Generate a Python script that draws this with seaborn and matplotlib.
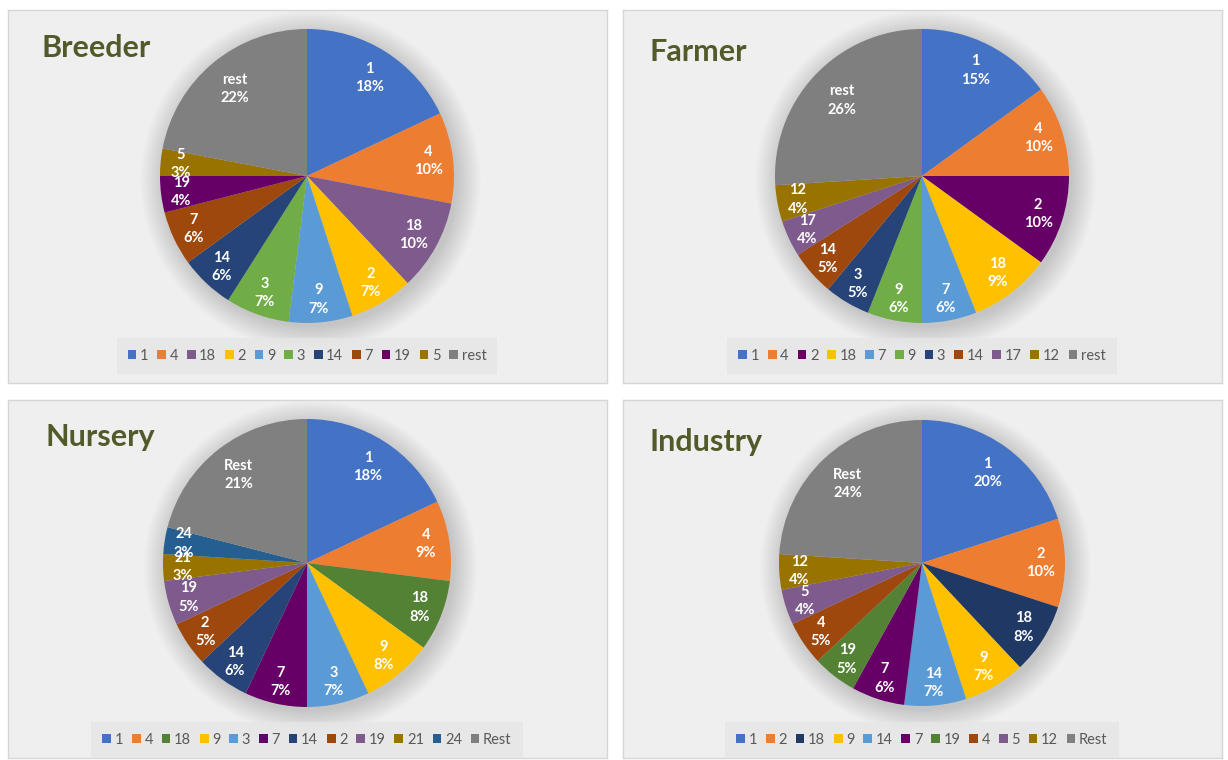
import matplotlib
matplotlib.use("Agg")
import matplotlib.pyplot as plt
from matplotlib.patches import Circle
import numpy as np
import seaborn as sns

sns.set_theme(style="white")
plt.rcParams["font.family"] = ["Lato", "DejaVu Sans"]

# ---- data -------------------------------------------------------------
breeder_labels = ["1", "4", "18", "2", "9", "3", "14", "7", "19", "5", "rest"]
breeder_values = [18, 10, 10, 7, 7, 7, 6, 6, 4, 3, 22]

farmer_labels = ["1", "4", "2", "18", "7", "9", "3", "14", "17", "12", "rest"]
farmer_values = [15, 10, 10, 9, 6, 6, 5, 5, 4, 4, 26]

nursery_labels = ["1", "4", "18", "9", "3", "7", "14", "2", "19", "21", "24", "Rest"]
nursery_values = [18, 9, 8, 8, 7, 7, 6, 5, 5, 3, 3, 21]

industry_labels = ["1", "2", "18", "9", "14", "7", "19", "4", "5", "12", "Rest"]
industry_values = [20, 10, 8, 7, 7, 6, 5, 5, 4, 4, 24]

# ---- colours ----------------------------------------------------------
BLUE, ORANGE, YELLOW, LBLUE = "#4472C4", "#ED7D31", "#FFC000", "#5B9BD5"
GREEN, DGREEN, NAVY, DNAVY = "#70AD47", "#548235", "#264478", "#203864"
BROWN, PLUM, MAUVE, OLIVE = "#9E480E", "#660066", "#7E5B8C", "#997300"
STEEL, GREY = "#255E91", "#808080"

breeder_colors = [BLUE, ORANGE, MAUVE, YELLOW, LBLUE, GREEN, NAVY, BROWN, PLUM, OLIVE, GREY]
farmer_colors = [BLUE, ORANGE, PLUM, YELLOW, LBLUE, GREEN, NAVY, BROWN, MAUVE, OLIVE, "#7F7F7F"]
nursery_colors = [BLUE, ORANGE, DGREEN, YELLOW, LBLUE, PLUM, NAVY, BROWN, MAUVE, OLIVE, STEEL, GREY]
industry_colors = [BLUE, ORANGE, DNAVY, YELLOW, LBLUE, PLUM, DGREEN, BROWN, MAUVE, OLIVE, GREY]

W, H = 1228, 760
fig = plt.figure(figsize=(W / 100, H / 100), dpi=100, facecolor="white")


def px_axes(x0, y0, x1, y1, **kw):
    """Axes given in pixel coordinates measured from the top-left corner."""
    return fig.add_axes([x0 / W, 1 - y1 / H, (x1 - x0) / W, (y1 - y0) / H], **kw)


panels = [
    dict(title="Breeder", labels=breeder_labels, values=breeder_values, colors=breeder_colors,
         box=(8, 10, 607, 383), center=(307, 176), r=147, tpos=(42, 48), leg=(307, 356)),
    dict(title="Farmer", labels=farmer_labels, values=farmer_values, colors=farmer_colors,
         box=(623, 10, 1222, 383), center=(922, 176), r=147, tpos=(649, 52), leg=(922, 356)),
    dict(title="Nursery", labels=nursery_labels, values=nursery_values, colors=nursery_colors,
         box=(8, 400, 607, 758), center=(307, 563), r=144, tpos=(45, 437), leg=(307, 740)),
    dict(title="Industry", labels=industry_labels, values=industry_values, colors=industry_colors,
         box=(623, 400, 1222, 758), center=(922, 563), r=143, tpos=(649, 442), leg=(922, 740)),
]

for p in panels:
    # panel background
    bg = px_axes(*p["box"], facecolor="#efefef")
    bg.set_xticks([])
    bg.set_yticks([])
    for s in bg.spines.values():
        s.set_color("#d6d6d6")
        s.set_linewidth(1.0)

    cx, cy = p["center"]
    r = p["r"]
    ax = px_axes(cx - r, cy - r, cx + r, cy + r)
    ax.set_facecolor("none")
    ax.axis("off")

    # soft drop shadow behind the pie
    for i in range(14):
        ax.add_patch(Circle((0.025, -0.03), 1.0 + 0.012 * i, color="black",
                            alpha=0.012, lw=0, zorder=0, clip_on=False))

    wedges, _ = ax.pie(p["values"], colors=p["colors"], startangle=90, counterclock=False,
                       radius=1.0, wedgeprops=dict(linewidth=0))
    for w in wedges:
        w.set_zorder(2)
    ax.set_xlim(-1, 1)
    ax.set_ylim(-1, 1)

    total = sum(p["values"])
    for w, lab, val in zip(wedges, p["labels"], p["values"]):
        mid = np.deg2rad((w.theta1 + w.theta2) / 2)
        d = 0.88 - 0.5 * val / total
        ax.text(d * np.cos(mid), d * np.sin(mid), f"{lab}\n{val}%", ha="center", va="center",
                color="white", fontsize=10.5, fontweight="bold", linespacing=1.4, zorder=3)

    fig.text(p["tpos"][0] / W, 1 - p["tpos"][1] / H, p["title"], ha="left", va="center",
             fontsize=22, fontweight="bold", color="#525A2A")

    lx, ly = p["leg"]
    leg = fig.legend(wedges, p["labels"], loc="center", bbox_to_anchor=(lx / W, 1 - ly / H),
                     ncol=len(p["labels"]), frameon=True, fontsize=10.5, handlelength=0.6,
                     handleheight=0.6, handletextpad=0.25, columnspacing=0.6,
                     borderpad=0.75, labelcolor="#595959")
    fr = leg.get_frame()
    fr.set_facecolor("#e6e6e6")
    fr.set_edgecolor("none")
    fr.set_boxstyle("square", pad=0)

fig.savefig("out.png", dpi=100, facecolor="white")
